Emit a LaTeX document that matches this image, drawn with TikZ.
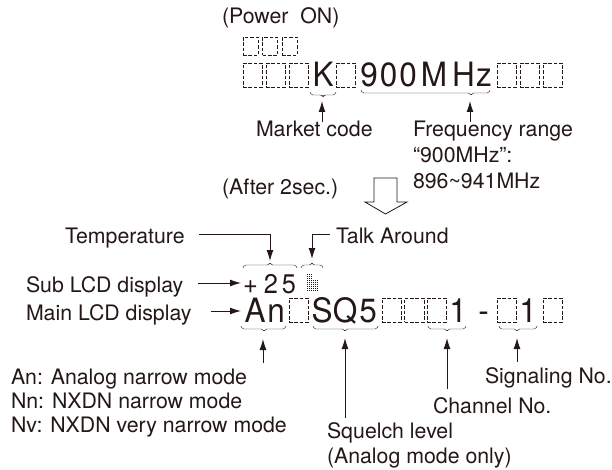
\documentclass[tikz,border=0pt]{standalone}
\usepackage{fontspec}
\setmainfont{TeX Gyre Heros}
\newfontfamily\lcdfont[FakeStretch=0.94]{TeX Gyre Heros}
\usetikzlibrary{arrows.meta}
\definecolor{ink}{HTML}{231815}
\tikzset{
  x=1pt,y=-1pt,
  every node/.style={inner sep=0pt,outer sep=0pt,text=ink},
  lbl/.style={anchor=base west,font=\fontsize{21.3}{24}\selectfont},
  big/.style={anchor=base,font=\lcdfont\fontsize{33.5}{33}\selectfont},
  mid/.style={anchor=base,font=\lcdfont\fontsize{27}{27}\selectfont},
  lcdbox/.style={draw=ink,line width=0.6pt,dash pattern=on 3.6pt off 1.8pt,minimum width=19.5pt,minimum height=24pt,anchor=north west},
  smallbox/.style={lcdbox,minimum width=15pt,minimum height=18.5pt},
  conn/.style={draw=ink,line width=1pt,-{Latex[length=11pt,width=7pt]}},
  brc/.style={draw=ink,line width=0.45pt,rounded corners=1.6pt},
}
% brace: x1,x2,tip x,y edge,y line,y tip
\newcommand{\brc}[6]{\draw[brc] (#1,#4) -- (#1+1.2,#5) -- (#3-1,#5) -- (#3,#6) -- (#3+1,#5) -- (#2-1.2,#5) -- (#2,#4);}
\begin{document}
\begin{tikzpicture}
\useasboundingbox (0,0) rectangle (612,470);
\node[lbl] (power) at (222,24) {(Power\ \ ON)};
\node[smallbox] (s1) at (243,37) {};
\node[smallbox] (s2) at (262.5,37) {};
\node[smallbox] (s3) at (282,37) {};
\node[lcdbox] (t1) at (243,63) {};
\node[lcdbox] (t2) at (266,63) {};
\node[lcdbox] (t3) at (289,63) {};
\node[big] (k) at (323,87) {K};
\node[lcdbox] (t4) at (336,63) {};
\node[big] (f1) at (369,87) {9};
\node[big] (f2) at (388.5,87) {0};
\node[big] (f3) at (408,87) {0};
\node[big] (f4) at (434,87) {M};
\node[big] (f5) at (463.5,87) {H};
\node[big] (f6) at (484,87) {z};
\node[lcdbox] (t5) at (497,63) {};
\node[lcdbox] (t6) at (520,63) {};
\node[lcdbox] (t7) at (543,63) {};
\brc{310}{336}{323}{92}{95}{97}
\brc{361}{490}{471}{90}{93}{96}
\coordinate (mkt) at (322,122);
\coordinate (mkh) at (322,101);
\draw[conn] (mkt) -- (mkh);
\coordinate (frt) at (470,122);
\coordinate (frh) at (470,101);
\draw[conn] (frt) -- (frh);
\node[lbl] (market) at (256,137) {Market code};
\node[lbl] (freq) at (413,137) {Frequency range};
\node[lbl] (f900) at (413,163) {“900MHz”:};
\node[lbl] (frange) at (413,189) {896\char`~941MHz};
\node[lbl] (after) at (222,195) {(After 2sec.)};
\draw[draw=ink,line width=0.8pt,fill=white] (374,178) -- (397,178) -- (397,202) -- (407,202) -- (385.5,214) -- (365,202) -- (374,202) -- cycle;
\node[lbl] (temp) at (65,243) {Temperature};
\node[lbl] (talk) at (336,243) {Talk Around};
\node[lbl] (sub) at (26,292) {Sub LCD display};
\node[lbl] (main) at (26,320) {Main LCD display};
\coordinate (tmps) at (199,234);
\coordinate (tmpc) at (270,234);
\coordinate (tmph) at (270,261);
\draw[conn] (tmps) -- (tmpc) -- (tmph);
\coordinate (tlks) at (330,234);
\coordinate (tlkc) at (312,234);
\coordinate (tlkh) at (312,259);
\draw[conn] (tlks) -- (tlkc) -- (tlkh);
\brc{243}{297}{270}{268}{265}{262.5}
\brc{301}{323}{312}{268}{265}{262.5}
\coordinate (subs) at (198,283);
\coordinate (subh) at (241,283);
\draw[conn] (subs) -- (subh);
\coordinate (mans) at (211,311);
\coordinate (manh) at (241,311);
\draw[conn] (mans) -- (manh);
\node[mid] (plus) at (250.5,293) {+};
\node[mid] (two) at (271,293) {2};
\node[mid] (five) at (289,293) {5};
\foreach \yy in {273.5,275.5,...,291} \foreach \xx in {306.5,308.5,310.5} \fill[ink] (\xx,\yy) rectangle ++(1.6,1.6);
\foreach \yy in {279.5,281.5,...,291} \foreach \xx in {312.5,314.5,316.5} \fill[ink] (\xx,\yy) rectangle ++(1.6,1.6);
\node[big] (a) at (255,322) {A};
\node[big] (n) at (276,322) {n};
\node[lcdbox] (m1) at (289,298) {};
\node[big] (sq1) at (322,322) {S};
\node[big] (sq2) at (345,322) {Q};
\node[big] (sq3) at (368,322) {5};
\node[lcdbox] (m2) at (382,298) {};
\node[lcdbox] (m3) at (404.5,298) {};
\node[lcdbox] (m4) at (427,298) {};
\node[big] (one) at (458,322) {1};
\node[big] (dash) at (483.5,322) {-};
\node[lcdbox] (m5) at (497,298) {};
\node[big] (oneb) at (528,322) {1};
\node[lcdbox] (m6) at (543,298) {};
\brc{241}{286}{264}{326}{329}{332}
\brc{313}{378}{345}{326}{329}{332}
\brc{428}{466}{447}{326}{329}{332}
\brc{499}{537}{517}{326}{329}{332}
\coordinate (ans) at (263,363);
\coordinate (anh) at (263,339);
\draw[conn] (ans) -- (anh);
\coordinate (sqs) at (345,418);
\coordinate (sqh) at (345,338);
\draw[conn] (sqs) -- (sqh);
\coordinate (chs) at (447,389);
\coordinate (chh) at (447,338);
\draw[conn] (chs) -- (chh);
\coordinate (sgs) at (517,362);
\coordinate (sgh) at (517,338);
\draw[conn] (sgs) -- (sgh);
\node[lbl] (l1) at (11,384) {An: Analog narrow mode};
\node[lbl] (l2) at (11,408) {Nn: NXDN narrow mode};
\node[lbl] (l3) at (11,432) {Nv: NXDN very narrow mode};
\node[lbl] (sig) at (485,383) {Signaling No.};
\node[lbl] (chn) at (433,413) {Channel No.};
\node[lbl] (sql) at (327,438) {Squelch level};
\node[lbl] (anl) at (327,463) {(Analog mode only)};
\end{tikzpicture}
\end{document}
